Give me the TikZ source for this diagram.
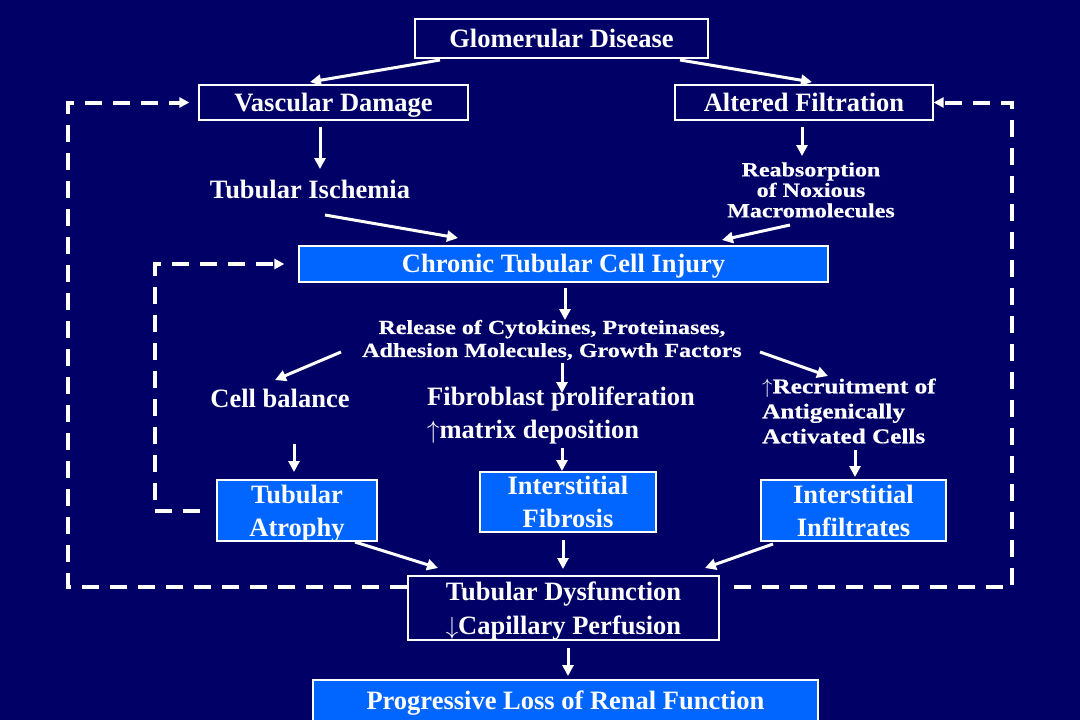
\documentclass[tikz,border=0pt]{standalone}
\usepackage{fontspec}
\setmainfont{Liberation Serif}
\newfontfamily\widefont{Liberation Serif}[BoldFont={Liberation Serif Bold}, FakeStretch=1.2, FakeBold=0.6]
\usepackage{tikz}
\usetikzlibrary{arrows.meta,calc}
\definecolor{slidebg}{HTML}{000066}
\definecolor{boxblue}{HTML}{0066FF}

\begin{document}
\begin{tikzpicture}[x=1pt, y=-1pt, >={Triangle[length=11pt,width=11pt]},
  font=\fontsize{26.5}{33}\selectfont\bfseries, text=white,
  box/.style={draw=white, line width=1.3pt, align=center, inner sep=0pt},
  dark/.style={box, fill=slidebg},
  lit/.style={box, fill=boxblue},
  oneline/.style={text height=18pt, text depth=1pt},
  lbl/.style={align=center, inner sep=0pt},
  minor/.style={lbl, font=\widefont\fontsize{20}{23}\selectfont\bfseries},
  flow/.style={->, draw=white, line width=3pt},
  feedback/.style={draw=white, line width=4pt, dash pattern=on 17pt off 11pt, -{Triangle[length=10pt,width=10pt]}}]
\useasboundingbox (0,0) rectangle (1080,720);
\fill[slidebg] (0,0) rectangle (1080,720);
\node[dark, oneline, minimum width=293pt, minimum height=39pt] (glom) at (561.5,38.5) {Glomerular Disease};
\node[dark, oneline, minimum width=269pt, minimum height=35pt] (vasc) at (333.5,102.5) {Vascular Damage};
\node[dark, oneline, minimum width=258pt, minimum height=35pt] (filt) at (804,102.5) {Altered Filtration};
\node[lbl] (isch) at (310,189) {Tubular Ischemia};
\node[minor, font=\widefont\fontsize{20}{20.5}\selectfont\bfseries] (reab) at (811,190) {Reabsorption\\of Noxious\\Macromolecules};
\node[lit, oneline, minimum width=529pt, minimum height=36pt] (chronic) at (563.5,264) {Chronic Tubular Cell Injury};
\node[minor] (release) at (552,340) {Release of Cytokines, Proteinases,\\Adhesion Molecules, Growth Factors};
\node[lbl] (cellbal) at (280,398) {Cell balance};
\node[lbl, align=left, anchor=west] (fibro) at (427,415) {Fibroblast proliferation\\$\uparrow$matrix deposition};
\node[minor, align=left, anchor=west, font=\widefont\fontsize{21}{25}\selectfont\bfseries] (recruit) at (762,411) {$\uparrow$Recruitment of\\Antigenically\\Activated Cells};
\node[lit, text depth=0pt, minimum width=160pt, minimum height=61pt] (atrophy) at (297,510.5) {Tubular\\Atrophy};
\node[lit, minimum width=176pt, minimum height=60pt] (fibrosis) at (568,502) {Interstitial\\Fibrosis};
\node[lit, minimum width=185pt, minimum height=61pt] (infil) at (853.5,510.5) {Interstitial\\Infiltrates};
\node[dark, text depth=-4pt, minimum width=311pt, minimum height=64pt, font=\fontsize{26.5}{34}\selectfont\bfseries] (dysf) at (563.5,608) {Tubular Dysfunction\\$\downarrow$Capillary Perfusion};
\node[lit, oneline, minimum width=505pt, minimum height=42pt] (prog) at (565.5,701) {Progressive Loss of Renal Function};
\draw[flow] ($(glom)+(-121.5,21.5)$) -- ($(vasc)+(-23.5,-20.5)$);
\draw[flow] ($(glom)+(118.5,21.5)$) -- ($(filt)+(8,-20.5)$);
\draw[flow] ($(vasc)+(-13.5,24)$) -- ($(isch)+(10,-20)$);
\draw[flow] ($(filt)+(-2,24)$) -- ($(reab)+(-9,-34)$);
\draw[flow] ($(isch)+(15,26)$) -- ($(chronic)+(-105.5,-26)$);
\draw[flow] ($(reab)+(-21,35)$) -- ($(chronic)+(158.5,-24)$);
\draw[flow] ($(chronic)+(1.5,24)$) -- ($(release)+(13,-20)$);
\draw[flow] ($(release)+(-211,12)$) -- ($(cellbal)+(-5,-18)$);
\draw[flow] ($(release)+(10,23)$) -- ($(fibro.west)+(135,-22)$);
\draw[flow] ($(release)+(208,12)$) -- ($(recruit.west)+(66,-35)$);
\draw[flow] ($(cellbal)+(14,46)$) -- ($(atrophy)+(-3,-38.5)$);
\draw[flow] ($(fibro.west)+(135,33)$) -- ($(fibrosis)+(-6,-31)$);
\draw[flow] ($(recruit.west)+(93,39)$) -- ($(infil)+(1.5,-33.5)$);
\draw[flow] ($(atrophy)+(58,31.5)$) -- ($(dysf)+(-125.5,-40)$);
\draw[flow] ($(fibrosis)+(-5,38)$) -- ($(dysf)+(-0.5,-39)$);
\draw[flow] ($(infil)+(-80.5,33.5)$) -- ($(dysf)+(141.5,-40)$);
\draw[flow] ($(dysf)+(4.5,40)$) -- ($(prog)+(2.5,-25)$);
\draw[feedback, shorten >=9pt] ($(dysf.west)+(0,-21)$) -| ($(vasc.west)+(-130,0)$) -- (vasc.west);
\draw[feedback] ($(dysf.east)+(14,-21)$) -| ($(filt.east)+(78,0)$) -- (filt.east);
\draw[feedback, shorten <=16pt, shorten >=14pt] (atrophy.west) -| ($(chronic.west)+(-143,0)$) -- (chronic.west);
\end{tikzpicture}
\end{document}
